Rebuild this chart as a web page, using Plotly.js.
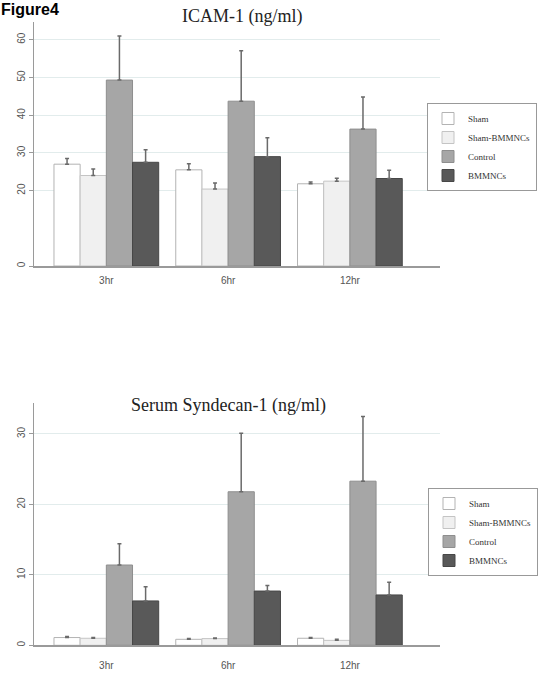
<!DOCTYPE html>
<html>
<head>
<meta charset="utf-8">
<script src="https://cdn.plot.ly/plotly-3.0.1.min.js"></script>
<style>html,body{margin:0;padding:0;background:#fff;}#chart{width:542px;height:674px;}</style>
</head>
<body>
<div id="chart"></div>
<script>
// ---- data ----
const categories = ['3hr', '6hr', '12hr'];
const seriesNames = ['Sham', 'Sham-BMMNCs', 'Control', 'BMMNCs'];

// ICAM-1 (ng/ml)
const icamSham = [27.0, 25.5, 21.8];
const icamSham_err = [1.5, 1.6, 0.5];
const icamShamB = [24.0, 20.4, 22.5];
const icamShamB_err = [1.7, 1.6, 0.8];
const icamControl = [49.3, 43.7, 36.3];
const icamControl_err = [11.7, 13.4, 8.5];
const icamBM = [27.5, 29.0, 23.2];
const icamBM_err = [3.3, 5.0, 2.2];

// Serum Syndecan-1 (ng/ml)
const synSham = [1.1, 0.85, 1.0];
const synSham_err = [0.15, 0.1, 0.12];
const synShamB = [1.0, 0.95, 0.7];
const synShamB_err = [0.1, 0.1, 0.15];
const synControl = [11.4, 21.8, 23.3];
const synControl_err = [3.0, 8.3, 9.2];
const synBM = [6.3, 7.7, 7.15];
const synBM_err = [2.0, 0.8, 1.8];

const icamTicks = [0, 20, 30, 40, 50, 60];
const synTicks = [0, 10, 20, 30];

// ---- styling ----
const fills = ['#ffffff', '#f0f0f0', '#a6a6a6', '#595959'];
const borders = ['#b3b3b3', '#c4c4c4', '#8e8e8e', '#474747'];
const errColor = '#6a6a6a';

function bar(name, vals, errs, i, xa, ya, legend, show) {
  return {
    type: 'bar', name: name, x: categories, y: vals,
    xaxis: xa, yaxis: ya, legend: legend, showlegend: show,
    marker: {color: fills[i], line: {color: borders[i], width: 1}},
    error_y: {type: 'data', array: errs, arrayminus: errs.map(() => 0), symmetric: false,
              color: errColor, thickness: 1.5, width: 2},
    hoverinfo: 'skip'
  };
}

const icamSets = [[icamSham, icamSham_err], [icamShamB, icamShamB_err], [icamControl, icamControl_err], [icamBM, icamBM_err]];
const synSets = [[synSham, synSham_err], [synShamB, synShamB_err], [synControl, synControl_err], [synBM, synBM_err]];

const traces = [];
icamSets.forEach((s, i) => traces.push(bar(seriesNames[i], s[0], s[1], i, 'x', 'y', 'legend', true)));
synSets.forEach((s, i) => traces.push(bar(seriesNames[i], s[0], s[1], i, 'x2', 'y2', 'legend2', true)));

const H = 674, L = 34, R = 440;
const py = p => 1 - p / H;
const px = p => (p - L) / (R - L);

const tickFont = {family: 'Liberation Sans Narrow, Liberation Sans, Arial, sans-serif', size: 10, color: '#555'};
const xCommon = {
  type: 'category', range: [-0.594, 2.74], showgrid: false, zeroline: false,
  showline: true, linecolor: '#9a9a9a', linewidth: 1.5, ticks: '', tickfont: tickFont, fixedrange: true
};
const yCommon = {
  showline: true, linecolor: '#9a9a9a', linewidth: 1.5, ticks: 'outside', ticklen: 4,
  tickcolor: '#9a9a9a', tickwidth: 1, tickangle: -90, tickfont: tickFont,
  showgrid: true, gridcolor: '#e2ecec', gridwidth: 1, zeroline: false, fixedrange: true
};
const legendCommon = {
  xanchor: 'left', yanchor: 'top', bgcolor: '#ffffff', bordercolor: '#999', borderwidth: 1,
  font: {family: 'Liberation Serif, Times New Roman, serif', size: 9, color: '#333'},
  traceorder: 'normal', tracegroupgap: 0
};

const layout = {
  width: 542, height: 674,
  margin: {l: L, r: 542 - R, t: 0, b: 0},
  paper_bgcolor: '#fff', plot_bgcolor: '#fff',
  barmode: 'group', bargap: 0.14, bargroupgap: 0,
  showlegend: true,
  xaxis: Object.assign({}, xCommon, {anchor: 'y', ticklabelstandoff: 4}),
  yaxis: Object.assign({}, yCommon, {domain: [py(266), py(22)], range: [0, 64.7], tickvals: icamTicks, anchor: 'x'}),
  xaxis2: Object.assign({}, xCommon, {anchor: 'y2', ticklabelstandoff: 10}),
  yaxis2: Object.assign({}, yCommon, {domain: [py(645.3), py(403)], range: [0, 34.4], tickvals: synTicks, anchor: 'x2'}),
  legend: Object.assign({}, legendCommon, {x: px(427), y: py(103)}),
  legend2: Object.assign({}, legendCommon, {x: px(428), y: py(488)}),
  annotations: [
    {text: '<b>Figure4</b>', xref: 'paper', yref: 'paper', x: px(0), y: py(0), xanchor: 'left', yanchor: 'top',
     borderpad: 0, showarrow: false, font: {family: 'Liberation Sans, Arial, sans-serif', size: 16, color: '#000'}},
    {text: 'ICAM-1 (ng/ml)', xref: 'paper', yref: 'paper', x: px(242), y: py(16), xanchor: 'center', yanchor: 'middle',
     showarrow: false, font: {family: 'Liberation Serif, Times New Roman, serif', size: 18, color: '#222'}},
    {text: 'Serum Syndecan-1 (ng/ml)', xref: 'paper', yref: 'paper', x: px(228), y: py(405), xanchor: 'center', yanchor: 'middle',
     showarrow: false, font: {family: 'Liberation Serif, Times New Roman, serif', size: 18, color: '#222'}}
  ]
};

Plotly.newPlot('chart', traces, layout, {staticPlot: true, displayModeBar: false});
</script>
</body>
</html>
